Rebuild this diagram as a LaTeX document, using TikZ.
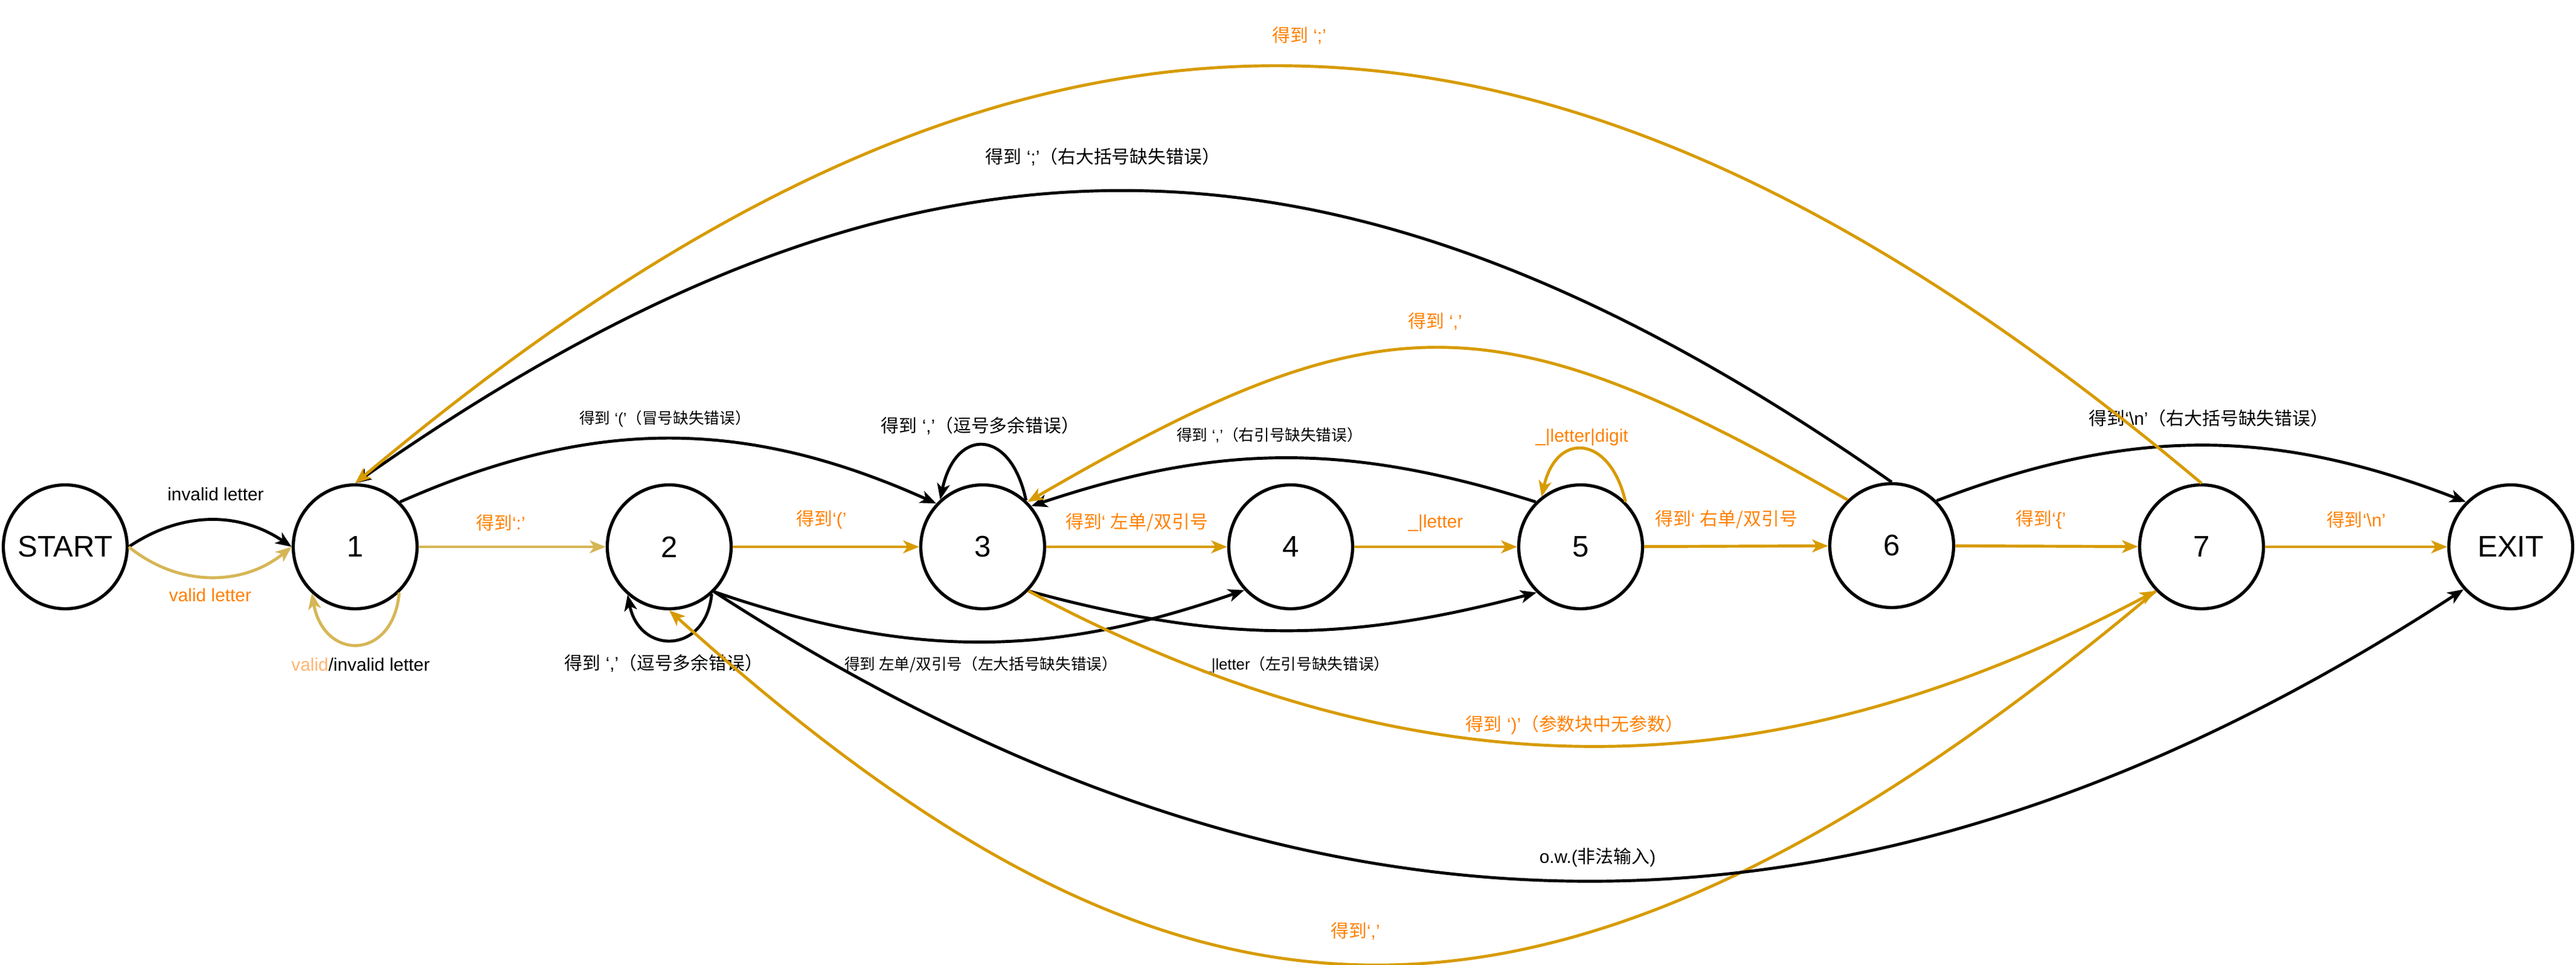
\documentclass[tikz,border=0pt]{standalone}
\usepackage{fontspec}
\setmainfont{Liberation Sans}
\newfontfamily\cjk{Noto Sans CJK SC}
\newcommand{\zh}[1]{{\cjk #1}}
\usetikzlibrary{arrows.meta}
\definecolor{lgold}{HTML}{D6B656}
\definecolor{dgold}{HTML}{D79B00}
\definecolor{lorange}{HTML}{FF8000}
\definecolor{pale}{HTML}{FFB570}

\begin{document}
\begin{tikzpicture}[
  state/.style={circle, draw, line width=1.5pt, minimum size=2.05cm, inner sep=0pt, font=\fontsize{14}{16}\selectfont},
  blk/.style={-{Stealth[length=7.5pt,width=6pt,inset=2pt]}, line width=1.4pt},
  gold/.style={blk, draw=lgold},
  dgld/.style={blk, draw=dgold},
  lab/.style={font=\fontsize{8.5}{10}\selectfont},
  slab/.style={font=\fontsize{7.3}{9}\selectfont},
  olab/.style={lab, text=lorange}]
%\draw [help lines] (0,0) grid (43,16);
\useasboundingbox (0,0) rectangle (42.65,15.97);

\node [state] (start) at (1.08,6.92) {START};
\node [state] (n1) at (5.88,6.92) {1};
\node [state] (n2) at (11.08,6.92) {2};
\node [state] (n3) at (16.27,6.92) {3};
\node [state] (n4) at (21.37,6.92) {4};
\node [state] (n5) at (26.17,6.92) {5};
\node [state] (n6) at (31.32,6.94) {6};
\node [state] (n7) at (36.45,6.92) {7};
\node [state] (exit) at (41.57,6.92) {EXIT};

\draw [blk] (start.east) to [bend left=34] (n1.west);
\node [lab] at (3.57,7.79) {invalid letter};
\draw [gold] (start.east) to [bend right=39] (n1.west);
\node [olab] at (3.48,6.12) {valid letter};

\draw [gold] (n1.-46) .. controls +(-0.1,-1.13) and +(0.2,-1.13) .. (n1.-133);
\node [lab] at (5.97,4.97) {\textcolor{pale}{valid}/invalid letter};

\draw [gold] (n1) -- (n2);
\node [olab] at (8.29,7.32) {\zh{得到}‘:’};

\draw [blk] (n2.-48) .. controls +(-0.1,-1.0) and +(0.2,-1.0) .. (n2.-131);
\node [lab] at (10.99,4.99) {\zh{得到} ‘,’\zh{（逗号多余错误）}};

\draw [dgld] (n2) -- (n3);
\node [olab] at (13.60,7.37) {\zh{得到}‘(’};

\draw [blk] (n1.45) to [bend left=24] (n3.137);
\node [slab] at (11.01,9.04) {\zh{得到} ‘(’\zh{（冒号缺失错误）}};

\draw [blk] (n3.47) .. controls +(-0.25,1.2) and +(0.25,1.2) .. (n3.132);
\node [lab] at (16.23,8.92) {\zh{得到} ‘,’\zh{（逗号多余错误）}};

\draw [dgld] (n3) -- (n4);
\node [olab] at (18.82,7.32) {\zh{得到}‘ \zh{左单/双引号}};

\draw [blk] (n5.135) to [bend right=18] (n3.40);
\node [slab] at (21.02,8.77) {\zh{得到} ‘,’\zh{（右引号缺失错误）}};

\draw [dgld] (n6.134) to [bend right=30, looseness=1.27] (n3.45);
\node [olab] at (23.76,10.65) {\zh{得到} ‘,’};

\draw [dgld] (n4) -- (n5);
\node [olab] at (23.77,7.31) {\_|letter};

\draw [dgld] (n5.45) .. controls +(-0.25,1.1) and +(0.25,1.1) .. (n5.128);
\node [olab] at (26.19,8.73) {\_|letter|digit};

\draw [dgld] (n5) -- (n6);
\node [olab] at (28.58,7.37) {\zh{得到}‘ \zh{右单/双引号}};

\draw [dgld] (n6) -- (n7);
\node [olab] at (33.79,7.37) {\zh{得到}‘\{’};

\draw [dgld] (n7) -- (exit);
\node [olab] at (39.01,7.37) {\zh{得到}‘\textbackslash n’};

\draw [blk] (n6.45) to [bend left=21] (exit.135);
\node [lab] at (36.57,9.05) {\zh{得到}‘\textbackslash n’\zh{（右大括号缺失错误）}};

\draw [blk] (n6.north) to [bend right=35, looseness=1.13] (n1.north);
\node [lab] at (18.26,13.37) {\zh{得到} ‘;’\zh{（右大括号缺失错误）}};

\draw [dgld] (n7.north) to [bend right=40, looseness=1.2] (n1.north);
\node [olab] at (21.51,15.38) {\zh{得到} ‘;’};

\draw [blk] (n2.-45) to [bend right=19] (n4.-137);
\node [slab] at (16.24,4.97) {\zh{得到 左单/双引号（左大括号缺失错误）}};

\draw [blk] (n3.-44) to [bend right=15] (n5.-134);
\node [slab] at (21.46,4.97) {\_|letter\zh{（左引号缺失错误）}};

\draw [dgld] (n3.-44) to [bend right=28] (n7.-136);
\node [olab] at (26.07,3.97) {\zh{得到} ‘)’\zh{（参数块中无参数）}};

\draw [dgld] (n7.-136) .. controls +(-140:13.5) and +(-42:11) .. (n2.south);
\node [olab] at (22.44,0.56) {\zh{得到}‘,’};

\draw [blk] (n2.-45) to [bend right=33, looseness=1.04] (exit.-138);
\node [lab] at (26.45,1.78) {o.w.(\zh{非法输入})};

\end{tikzpicture}
\end{document}
